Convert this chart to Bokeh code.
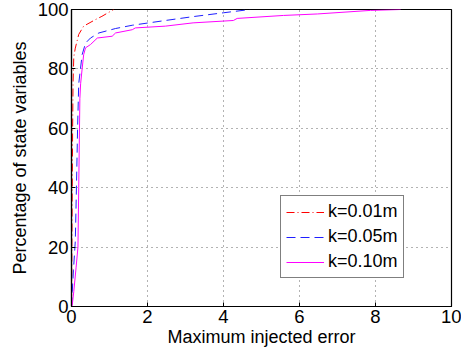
from bokeh.plotting import figure
from bokeh.models import Legend, LegendItem, FixedTicker, Range1d
from bokeh.embed import file_html
from bokeh.resources import INLINE

# Series: cumulative percentage vs maximum injected error
k001_x = [0, 0.005, 0.01, 0.02, 0.03, 0.04, 0.06, 0.1, 0.19, 0.32, 0.63, 0.8, 1.11]
k001_y = [0, 5, 20, 40, 60, 75, 84, 87, 91.6, 94.4, 96.6, 97.7, 100]

k005_x = [0, 0.02, 0.05, 0.08, 0.1, 0.13, 0.16, 0.19, 0.28, 0.37, 0.5, 0.72, 1.16, 1.6, 2.47, 3.2, 4.0, 4.7]
k005_y = [0, 5, 12, 18, 22, 40, 60, 75, 84.8, 88.7, 90.4, 92.1, 93.6, 94.7, 96.3, 97.6, 98.9, 100]

k010_x = [0, 0.02, 0.06, 0.12, 0.17, 0.19, 0.22, 0.24, 0.28, 0.32, 0.37, 0.5, 0.68, 1.07, 1.16,
          1.6, 1.68, 2.47, 3.2, 4.26, 4.36, 5.58, 6.47, 7.87, 8.66]
k010_y = [0, 0.5, 5, 13, 20, 40, 70, 75, 80, 84.8, 87.1, 88.2, 90.4, 91, 92.1,
          93.2, 93.8, 94.4, 95.5, 96.3, 97, 98, 98.5, 99.7, 100]

series_labels = ["k=0.01m", "k=0.05m", "k=0.10m"]
x_ticks = [0, 2, 4, 6, 8, 10]
y_ticks = [0, 20, 40, 60, 80, 100]

FONT = "Liberation Sans"
TICK_SIZE = "18.5px"
LABEL_SIZE = "18px"

p = figure(width=461, height=354, output_backend="svg", toolbar_location=None,
           x_range=Range1d(0, 10), y_range=Range1d(0, 100),
           min_border_left=71, min_border_right=10, min_border_top=9, min_border_bottom=48)
p.background_fill_color = "white"
p.border_fill_color = "white"
p.outline_line_color = "black"
p.outline_line_width = 1.2

for ax in (p.xaxis[0], p.yaxis[0]):
    ax.major_label_text_font = FONT
    ax.major_label_text_font_size = TICK_SIZE
    ax.major_label_text_color = "black"
    ax.axis_label_text_font = FONT
    ax.axis_label_text_font_size = LABEL_SIZE
    ax.axis_label_text_font_style = "normal"
    ax.axis_label_text_color = "black"
    ax.major_tick_in = 4
    ax.major_tick_out = 0
    ax.minor_tick_in = 0
    ax.minor_tick_out = 0
    ax.axis_line_color = "black"
    ax.axis_line_width = 1.2
    ax.major_tick_line_color = "black"
    ax.major_label_standoff = 3

p.xaxis[0].ticker = FixedTicker(ticks=x_ticks)
p.yaxis[0].ticker = FixedTicker(ticks=y_ticks)
p.xaxis[0].axis_label = "Maximum injected error"
p.yaxis[0].axis_label = "Percentage of state variables"
p.xaxis[0].axis_label_standoff = 1
p.yaxis[0].axis_label_standoff = 5

p.xgrid.ticker = FixedTicker(ticks=x_ticks)
p.ygrid.ticker = FixedTicker(ticks=y_ticks)
for g in (p.xgrid[0], p.ygrid[0]):
    g.grid_line_color = "#666666"
    g.grid_line_dash = "1 4"
    g.grid_line_width = 1

r1 = p.line(k001_x, k001_y, line_color="#ff0000", line_width=1, line_dash="8 3 1 3")
r2 = p.line(k005_x, k005_y, line_color="#1f1fff", line_width=1, line_dash="9 5")
r3 = p.line(k010_x, k010_y, line_color="#ff00ff", line_width=1)

legend = Legend(items=[LegendItem(label=series_labels[0], renderers=[r1]),
                       LegendItem(label=series_labels[1], renderers=[r2]),
                       LegendItem(label=series_labels[2], renderers=[r3])],
                location=(209, 28))
legend.label_text_font = FONT
legend.label_text_font_size = LABEL_SIZE
legend.label_text_color = "black"
legend.border_line_color = "black"
legend.border_line_width = 1.2
legend.background_fill_color = "white"
legend.background_fill_alpha = 1
legend.glyph_width = 38
legend.glyph_height = 20
legend.label_height = 20
legend.label_standoff = 4
legend.spacing = 4
legend.padding = 5
legend.margin = 0
p.add_layout(legend, "center")

open("out.html", "w").write(file_html(p, INLINE))
